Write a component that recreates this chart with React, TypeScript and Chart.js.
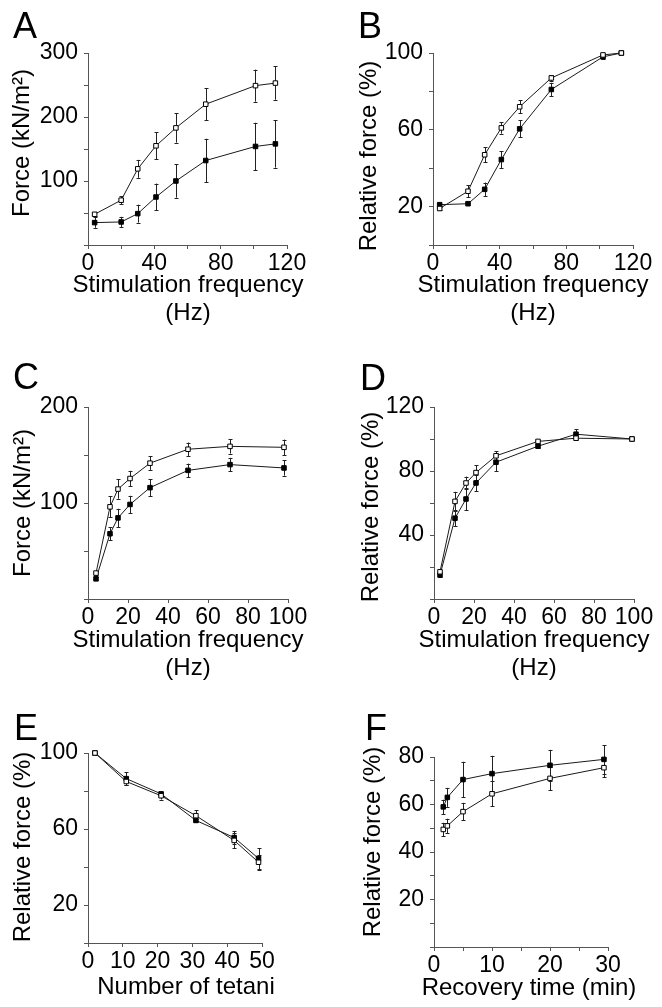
import React, { useEffect, useRef } from 'react';
import { Chart, registerables } from 'chart.js';

Chart.register(...registerables);

const FONT = '"Liberation Sans", Arial, Helvetica, sans-serif';

// ---------- Panel A : force vs stimulation frequency ----------
const freqA = [4, 20, 30, 41, 53, 71, 101, 113];
const openA = [48, 70, 119, 155, 183, 220, 249, 253];
const openErrA = [3, 6, 14, 21, 23, 25, 25, 26];
const filledA = [35, 36, 49, 75, 100, 132, 154, 158];
const filledErrA = [8, 8, 14, 21, 26, 34, 37, 37];
const xLabelsA = [0, 40, 80, 120];
const yLabelsA = [100, 200, 300];

// ---------- Panel B : relative force vs stimulation frequency ----------
const freqB = [4, 21, 31, 41, 52, 71, 102, 113];
const openB = [19, 28, 47, 61, 72, 87, 99, 100];
const openErrB = [1, 3, 4, 3, 3.5, 1.5, 1, 0];
const filledB = [21, 21.5, 29, 44.5, 60.5, 81, 98, 100];
const filledErrB = [0.5, 0.5, 3.5, 4.4, 4.4, 3.5, 1, 0];
const xLabelsB = [0, 40, 80, 120];
const yLabelsB = [20, 60, 100];

// ---------- Panel C : force vs stimulation frequency ----------
const freqC = [4, 11, 15, 21, 31, 50, 71, 98];
const openC = [27, 96, 114.5, 125.5, 141.5, 156, 159, 158];
const openErrC = [2, 11, 10, 8, 7, 7, 7.5, 8];
const filledC = [21, 68, 84.5, 98.5, 116, 134, 140, 136.5];
const filledErrC = [1.5, 7, 9.5, 9, 9, 7, 7, 8];
const xLabelsC = [0, 20, 40, 60, 80, 100];
const yLabelsC = [100, 200];

// ---------- Panel D : relative force vs stimulation frequency ----------
const freqD = [3, 10.5, 16, 21, 31, 52, 71, 99];
const openD = [17, 61, 72.5, 79, 89.5, 98.5, 100.5, 100];
const openErrD = [1, 6, 4, 4.5, 3, 1, 1, 0];
const filledD = [15, 50.5, 62.5, 72.5, 85.5, 95.5, 103, 100];
const filledErrD = [1, 5, 7, 5, 5.5, 1, 3, 0];
const xLabelsD = [0, 20, 40, 60, 80, 100];
const yLabelsD = [40, 80, 120];

// ---------- Panel E : relative force vs number of tetani ----------
const tetaniE = [2, 11, 21, 31, 42, 49];
const openE = [100, 85, 77.5, 67, 54, 42.5];
const openErrE = [0, 2, 2, 3, 4, 4];
const filledE = [100, 86.5, 78.5, 64.5, 55.5, 44.5];
const filledErrE = [0, 3.5, 1, 1, 3.5, 5.5];
const xLabelsE = [0, 10, 20, 30, 40, 50];
const yLabelsE = [20, 60, 100];

// ---------- Panel F : relative force vs recovery time ----------
const recoveryF = [1.6, 2.3, 5, 10, 20, 29.3];
const openF = [49.5, 51, 57, 64.5, 71, 75.5];
const openErrF = [2.8, 3, 3.7, 5.3, 5, 4];
const filledF = [59, 63, 70.5, 73, 76.5, 79];
const filledErrF = [3, 4, 7.5, 7.5, 6.5, 6];
const xLabelsF = [0, 10, 20, 30];
const yLabelsF = [20, 40, 60, 80];

type Series = { xs: number[]; ys: number[]; errs: number[]; filled: boolean };
type Panel = {
  box: [number, number, number, number];
  area: [number, number, number, number];
  x: [number, number, number];
  y: [number, number, number];
  xLabels: number[];
  yLabels: number[];
  letter: { text: string; x: number; y: number };
  yTitle: { text: string; x: number; y: number };
  xTitle: { text: string; x: number; y: number }[];
  series: Series[];
};

const panels: Panel[] = [
  {
    box: [0, 0, 331, 345], area: [88, 53, 287, 245], x: [0, 120, 20], y: [0, 300, 50],
    xLabels: xLabelsA, yLabels: yLabelsA,
    letter: { text: 'A', x: 13, y: 38 },
    yTitle: { text: 'Force (kN/m²)', x: 22, y: 143 },
    xTitle: [{ text: 'Stimulation frequency', x: 188, y: 285 }, { text: '(Hz)', x: 188, y: 313 }],
    series: [
      { xs: freqA, ys: openA, errs: openErrA, filled: false },
      { xs: freqA, ys: filledA, errs: filledErrA, filled: true },
    ],
  },
  {
    box: [331, 0, 331, 345], area: [433, 53, 633, 245], x: [0, 120, 20], y: [0, 100, 20],
    xLabels: xLabelsB, yLabels: yLabelsB,
    letter: { text: 'B', x: 358, y: 38 },
    yTitle: { text: 'Relative force (%)', x: 369, y: 156 },
    xTitle: [{ text: 'Stimulation frequency', x: 533, y: 285 }, { text: '(Hz)', x: 533, y: 313 }],
    series: [
      { xs: freqB, ys: openB, errs: openErrB, filled: false },
      { xs: freqB, ys: filledB, errs: filledErrB, filled: true },
    ],
  },
  {
    box: [0, 345, 331, 345], area: [88, 407, 288, 599], x: [0, 100, 20], y: [0, 200, 50],
    xLabels: xLabelsC, yLabels: yLabelsC,
    letter: { text: 'C', x: 13, y: 389 },
    yTitle: { text: 'Force (kN/m²)', x: 23, y: 503 },
    xTitle: [{ text: 'Stimulation frequency', x: 188, y: 640 }, { text: '(Hz)', x: 188, y: 668 }],
    series: [
      { xs: freqC, ys: openC, errs: openErrC, filled: false },
      { xs: freqC, ys: filledC, errs: filledErrC, filled: true },
    ],
  },
  {
    box: [331, 345, 331, 345], area: [434, 407, 634, 599], x: [0, 100, 20], y: [0, 120, 20],
    xLabels: xLabelsD, yLabels: yLabelsD,
    letter: { text: 'D', x: 360, y: 390 },
    yTitle: { text: 'Relative force (%)', x: 371, y: 507 },
    xTitle: [{ text: 'Stimulation frequency', x: 534, y: 640 }, { text: '(Hz)', x: 534, y: 668 }],
    series: [
      { xs: freqD, ys: openD, errs: openErrD, filled: false },
      { xs: freqD, ys: filledD, errs: filledErrD, filled: true },
    ],
  },
  {
    box: [0, 690, 331, 317], area: [88, 753, 262, 943], x: [0, 50, 10], y: [0, 100, 20],
    xLabels: xLabelsE, yLabels: yLabelsE,
    letter: { text: 'E', x: 14, y: 740 },
    yTitle: { text: 'Relative force (%)', x: 23, y: 847 },
    xTitle: [{ text: 'Number of tetani', x: 186, y: 987 }],
    series: [
      { xs: tetaniE, ys: openE, errs: openErrE, filled: false },
      { xs: tetaniE, ys: filledE, errs: filledErrE, filled: true },
    ],
  },
  {
    box: [331, 690, 331, 317], area: [434, 757, 608, 947], x: [0, 30, 5], y: [0, 80, 10],
    xLabels: xLabelsF, yLabels: yLabelsF,
    letter: { text: 'F', x: 365, y: 740 },
    yTitle: { text: 'Relative force (%)', x: 373, y: 842 },
    xTitle: [{ text: 'Recovery time (min)', x: 529, y: 988 }],
    series: [
      { xs: recoveryF, ys: openF, errs: openErrF, filled: false },
      { xs: recoveryF, ys: filledF, errs: filledErrF, filled: true },
    ],
  },
];

const errorBarPlugin = {
  id: 'errorBars',
  beforeDatasetsDraw(chart: any) {
    const { ctx, scales } = chart;
    const xs = scales.x;
    const ys = scales.y;
    ctx.save();
    ctx.strokeStyle = '#222';
    ctx.lineWidth = 1;
    chart.data.datasets.forEach((ds: any) => {
      const errs: number[] = ds.errors || [];
      ds.data.forEach((p: any, i: number) => {
        const e = errs[i];
        if (!e) return;
        const px = Math.round(xs.getPixelForValue(p.x)) + 0.5;
        const top = ys.getPixelForValue(p.y + e);
        const bot = ys.getPixelForValue(p.y - e);
        ctx.beginPath();
        ctx.moveTo(px, top);
        ctx.lineTo(px, bot);
        ctx.moveTo(px - 2, Math.round(top) + 0.5);
        ctx.lineTo(px + 2, Math.round(top) + 0.5);
        ctx.moveTo(px - 2, Math.round(bot) + 0.5);
        ctx.lineTo(px + 2, Math.round(bot) + 0.5);
        ctx.stroke();
      });
    });
    ctx.restore();
  },
};

function PanelChart({ panel }: { panel: Panel }) {
  const ref = useRef<HTMLCanvasElement>(null);
  const [bx, by, bw, bh] = panel.box;

  useEffect(() => {
    const [l, t, r, b] = panel.area;
    const textPlugin = {
      id: 'panelText',
      afterDraw(chart: any) {
        const ctx = chart.ctx;
        ctx.save();
        ctx.fillStyle = '#000';
        ctx.font = `36px ${FONT}`;
        ctx.textAlign = 'left';
        ctx.textBaseline = 'alphabetic';
        ctx.fillText(panel.letter.text, panel.letter.x - bx, panel.letter.y - by);
        ctx.font = `24px ${FONT}`;
        ctx.textAlign = 'center';
        ctx.textBaseline = 'middle';
        panel.xTitle.forEach((ln) => ctx.fillText(ln.text, ln.x - bx, ln.y - by));
        ctx.translate(panel.yTitle.x - bx, panel.yTitle.y - by);
        ctx.rotate(-Math.PI / 2);
        ctx.fillText(panel.yTitle.text, 0, 0);
        ctx.restore();
      },
    };
    const axisColor = '#555';
    const tickFont = { family: FONT, size: 23 };
    const chart = new Chart(ref.current as HTMLCanvasElement, {
      type: 'line',
      data: {
        datasets: panel.series.map((s) => ({
          data: s.xs.map((x, i) => ({ x, y: s.ys[i] })),
          errors: s.errs,
          borderColor: '#1a1a1a',
          borderWidth: 1,
          pointStyle: 'rect',
          pointRadius: 3.2,
          pointBorderWidth: 1,
          pointBackgroundColor: s.filled ? '#000' : '#fff',
          pointBorderColor: '#000',
          fill: false,
          tension: 0,
          clip: false,
        })) as any,
      },
      options: {
        animation: false,
        responsive: false,
        events: [],
        layout: { padding: { left: 0, top: t - by, right: bx + bw - r, bottom: 0 } },
        plugins: { legend: { display: false }, tooltip: { enabled: false } },
        scales: {
          x: {
            type: 'linear',
            min: panel.x[0],
            max: panel.x[1],
            afterFit: (s: any) => { s.height = by + bh - b; },
            ticks: {
              stepSize: panel.x[2],
              autoSkip: false,
              maxRotation: 0,
              padding: 1,
              color: '#000',
              font: tickFont,
              callback: (v: any) => (panel.xLabels.includes(Number(v)) ? String(v) : ''),
            },
            grid: { display: true, drawOnChartArea: false, drawTicks: true, tickLength: 4, color: axisColor },
            border: { display: true, color: axisColor, width: 1 },
          },
          y: {
            type: 'linear',
            min: panel.y[0],
            max: panel.y[1],
            afterFit: (s: any) => { s.width = l - bx; },
            ticks: {
              stepSize: panel.y[2],
              autoSkip: false,
              padding: 6,
              color: '#000',
              font: tickFont,
              callback: (v: any) => (panel.yLabels.includes(Number(v)) ? String(v) : ''),
            },
            grid: { display: true, drawOnChartArea: false, drawTicks: true, tickLength: 4, color: axisColor },
            border: { display: true, color: axisColor, width: 1 },
          },
        },
      } as any,
      plugins: [errorBarPlugin, textPlugin],
    });
    return () => chart.destroy();
  }, []);

  return (
    <canvas
      ref={ref}
      width={bw}
      height={bh}
      style={{ position: 'absolute', left: bx, top: by, width: bw, height: bh }}
    />
  );
}

export default function App() {
  return (
    <div style={{ position: 'absolute', left: 0, top: 0, width: 662, height: 1007, background: '#fff' }}>
      {panels.map((p, i) => (
        <PanelChart key={i} panel={p} />
      ))}
    </div>
  );
}
